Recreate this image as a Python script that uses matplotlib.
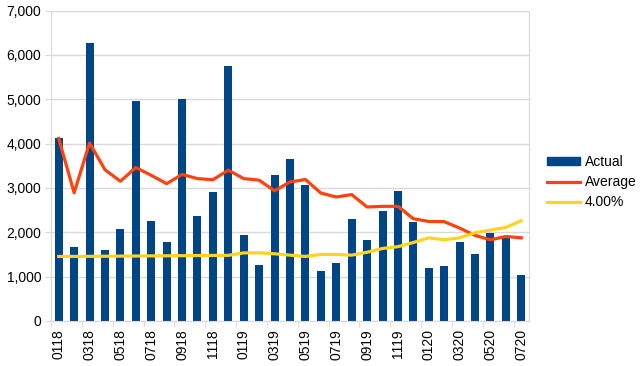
import matplotlib.pyplot as plt
from matplotlib.patches import Patch
from matplotlib.lines import Line2D

plt.rcParams['font.family'] = ['Liberation Sans', 'DejaVu Sans']

# months from 0118 to 0720
months = ["0118", "0218", "0318", "0418", "0518", "0618", "0718", "0818", "0918", "1018", "1118", "1218",
          "0119", "0219", "0319", "0419", "0519", "0619", "0719", "0819", "0919", "1019", "1119", "1219",
          "0120", "0220", "0320", "0420", "0520", "0620", "0720"]

actual = [4120, 1665, 6270, 1605, 2080, 4960, 2260, 1780, 5000, 2360, 2915, 5740,
          1945, 1260, 3290, 3650, 3060, 1130, 1310, 2300, 1830, 2490, 2925, 2225,
          1190, 1230, 1770, 1520, 1990, 1875, 1040]

average = [4115, 2890, 4015, 3410, 3150, 3460, 3285, 3095, 3305, 3210, 3185, 3400,
           3210, 3175, 2935, 3135, 3190, 2885, 2795, 2850, 2570, 2585, 2585, 2305,
           2245, 2240, 2095, 1930, 1830, 1905, 1875]

pct4 = [1455, 1455, 1458, 1460, 1463, 1465, 1468, 1470, 1473, 1476, 1478, 1480,
        1535, 1537, 1515, 1485, 1455, 1500, 1500, 1485, 1550, 1635, 1675, 1770,
        1875, 1830, 1875, 1990, 2050, 2110, 2260]

blue = "#004586"
red = "#ff420e"
yellow = "#ffd320"
grid_c = "#d9d9d9"

fig = plt.figure(figsize=(6.4, 3.66), dpi=100)
ax = fig.add_axes([51 / 640, 1 - 321 / 366, (529 - 51) / 640, (321 - 10.5) / 366])

x = list(range(len(months)))
ax.bar(x, actual, width=0.52, color=blue, zorder=2)
ax.plot(x, average, color=red, lw=2.3, zorder=3)
ax.plot(x, pct4, color=yellow, lw=2.3, zorder=3)

ax.set_xlim(-0.5, len(months) - 0.5)
ax.set_ylim(0, 7000)
ax.set_yticks(range(0, 7001, 1000))
ax.set_yticklabels([f"{v:,}" for v in range(0, 7001, 1000)], fontsize=10)
ax.yaxis.grid(True, color=grid_c, lw=1, zorder=0)

# labels on every other month, tick marks at category edges
ax.set_xticks(x[::2])
ax.set_xticklabels(months[::2], rotation=90, fontsize=10)
ax.tick_params(axis='x', which='major', length=0, pad=6)
ax.set_xticks([i - 0.5 for i in x[::2]], minor=True)
ax.tick_params(axis='x', which='minor', length=4, color=grid_c)
ax.tick_params(axis='y', length=4, color=grid_c, pad=3)

for s in ax.spines.values():
    s.set_color(grid_c)

handles = [Patch(color=blue), Line2D([], [], color=red, lw=2.3), Line2D([], [], color=yellow, lw=2.3)]
fig.legend(handles, ["Actual", "Average", "4.00%"], loc='center left', bbox_to_anchor=(547 / 640, 1 - 182 / 366),
           frameon=False, fontsize=10, handlelength=2.4, handleheight=0.5, handletextpad=0.3,
           labelspacing=0.45, borderpad=0, borderaxespad=0)

fig.savefig("out.png", dpi=100)
